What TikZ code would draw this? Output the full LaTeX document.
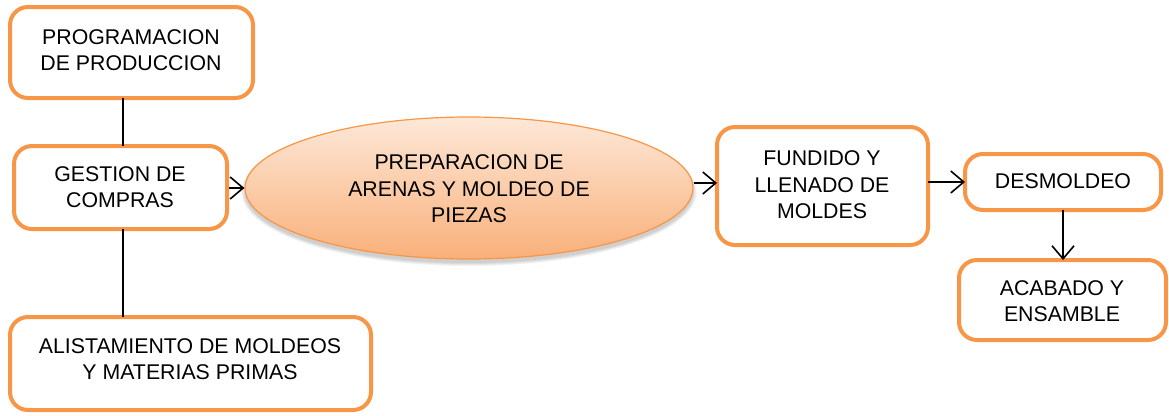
\documentclass[tikz,border=0pt]{standalone}
\usepackage{fontspec}
\setmainfont{Liberation Sans}
\usetikzlibrary{arrows.meta,shapes.geometric}
\definecolor{accent}{HTML}{F79646}
\definecolor{ptop}{HTML}{FDE8D8}
\definecolor{pbot}{HTML}{F9B07A}
\tikzset{
  stepbox/.style={draw=accent, line width=4pt, rounded corners=18pt, fill=white},
  lbl/.style={align=center, font=\fontsize{21.3}{26.5}\selectfont, inner sep=0pt},
  arr/.style={draw=black, line width=1.6pt, -{Straight Barb[length=13pt,width=22pt,line width=1.6pt]}},
  lnk/.style={draw=black, line width=1.6pt},
  shad/.style={fill=black, fill opacity=0.05, draw=none}
}
\begin{document}
\begin{tikzpicture}[x=1pt,y=-1pt]
\useasboundingbox (0,0) rectangle (1169,415);
% boxes
\draw[stepbox] (10,7) rectangle (253,98);
\node[lbl] (prog) at (131,50) {PROGRAMACION\\DE PRODUCCION};
\coordinate (progB) at (123,98);

\draw[stepbox] (14,146) rectangle (227,229);
\node[lbl] (gest) at (120,187) {GESTION DE\\COMPRAS};
\coordinate (gestT) at (123,146);
\coordinate (gestB) at (123,229);
\coordinate (gestR) at (229,188);

\draw[stepbox] (10,317) rectangle (371,410);
\node[lbl] (alis) at (190,359) {ALISTAMIENTO DE MOLDEOS\\Y MATERIAS PRIMAS};
\coordinate (alisT) at (123,317);

% soft shadow of the ellipse
\foreach \d in {0,2,4,6}{
  \fill[shad] (469,192) ellipse ({224+\d*0.6} and {71+\d*0.5});
}
\node[ellipse, draw=accent, line width=1.2pt, top color=ptop, bottom color=pbot,
      minimum width=448pt, minimum height=142pt, inner sep=0pt] (ell) at (469,188) {};
\node[lbl] (elltxt) at (469,189) {PREPARACION DE\\ARENAS Y MOLDEO DE\\PIEZAS};

\draw[stepbox] (717,127) rectangle (928,245);
\node[lbl] (fund) at (822,185) {FUNDIDO Y\\LLENADO DE\\MOLDES};
\coordinate (fundL) at (717,183);
\coordinate (fundR) at (928,182);

\draw[stepbox] (965,154) rectangle (1161,210);
\node[lbl] (desm) at (1063,181) {DESMOLDEO};
\coordinate (desmL) at (965,182);
\coordinate (desmB) at (1063,210);

\draw[stepbox] (959,260) rectangle (1166,340);
\node[lbl] (acab) at (1062,301) {ACABADO Y\\ENSAMBLE};
\coordinate (acabT) at (1063,260);

% connectors
\draw[lnk] (progB) -- (gestT);
\draw[lnk] (gestB) -- (alisT);
\draw[arr] (gestR) -- (ell.west);
\draw[arr] (ell.east |- fundL) -- (fundL);
\draw[arr] (fundR) -- (desmL);
\draw[arr] (desmB) -- (acabT);
\end{tikzpicture}
\end{document}
